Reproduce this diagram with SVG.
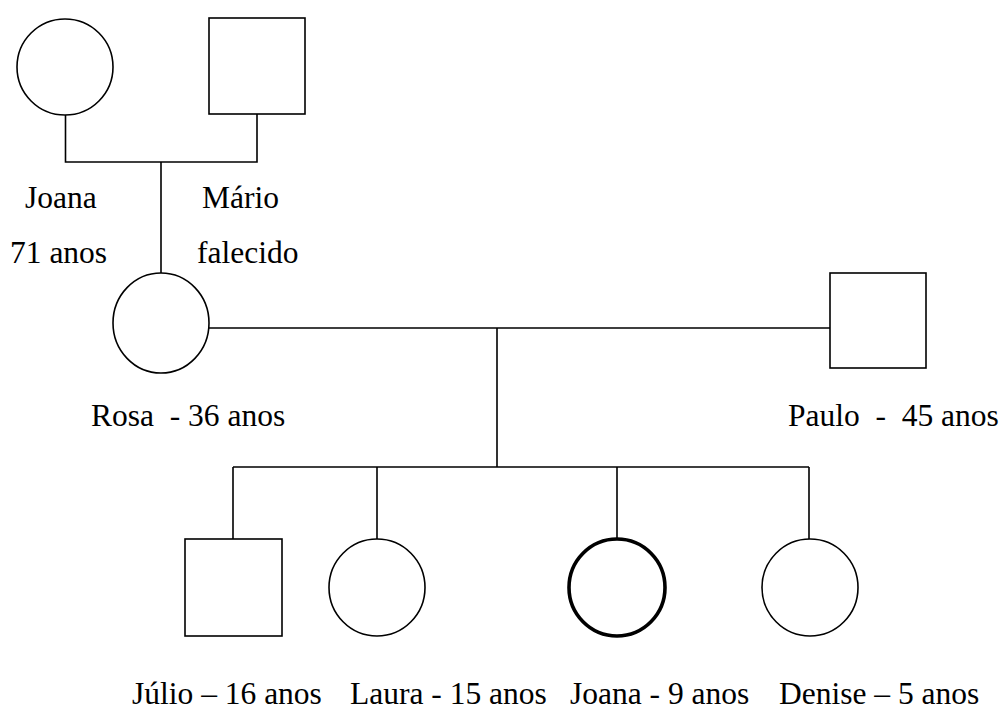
<svg xmlns="http://www.w3.org/2000/svg" width="1007" height="709" viewBox="0 0 1007 709">
<style>
.s{fill:#fff;stroke:#000;stroke-width:1.6}
.b{fill:#fff;stroke:#000;stroke-width:3.6}
.c{fill:none;stroke:#000;stroke-width:1.6}
text{font-family:"Liberation Serif","Times New Roman",serif;font-size:31.5px;fill:#000;white-space:pre}
</style>
<rect width="1007" height="709" fill="#fff"/>
<g id="connectors">
<path class="c" d="M65.5 115V162H257V114M161 162V273"/>
<path class="c" d="M209 328H830M497 328V467M233 467H809M233 467V539M377 467V539M617 467V539M809 467V539"/>
</g>
<g id="joana-avo"><circle class="s" cx="65" cy="67" r="48"/><text x="25" y="208">Joana</text><text x="10" y="263">71 anos</text></g>
<g id="mario"><rect class="s" x="209" y="18" width="96" height="96"/><text x="202" y="208">Mário</text><text x="197" y="263">falecido</text></g>
<g id="rosa"><ellipse class="s" cx="161" cy="323" rx="48" ry="50"/><text x="91" y="426">Rosa  - 36 anos</text></g>
<g id="paulo"><rect class="s" x="830" y="273" width="96" height="95"/><text x="788" y="426">Paulo  -  45 anos</text></g>
<g id="julio"><rect class="s" x="185" y="539" width="97" height="97"/><text x="132" y="704">Júlio – 16 anos</text></g>
<g id="laura"><ellipse class="s" cx="377" cy="587.5" rx="48" ry="48.5"/><text x="350" y="704">Laura - 15 anos</text></g>
<g id="joana"><ellipse class="b" cx="617" cy="587.5" rx="48" ry="48.5"/><text x="570" y="704">Joana - 9 anos</text></g>
<g id="denise"><ellipse class="s" cx="810" cy="587.5" rx="48" ry="48.5"/><text x="779" y="704">Denise – 5 anos</text></g>
</svg>
